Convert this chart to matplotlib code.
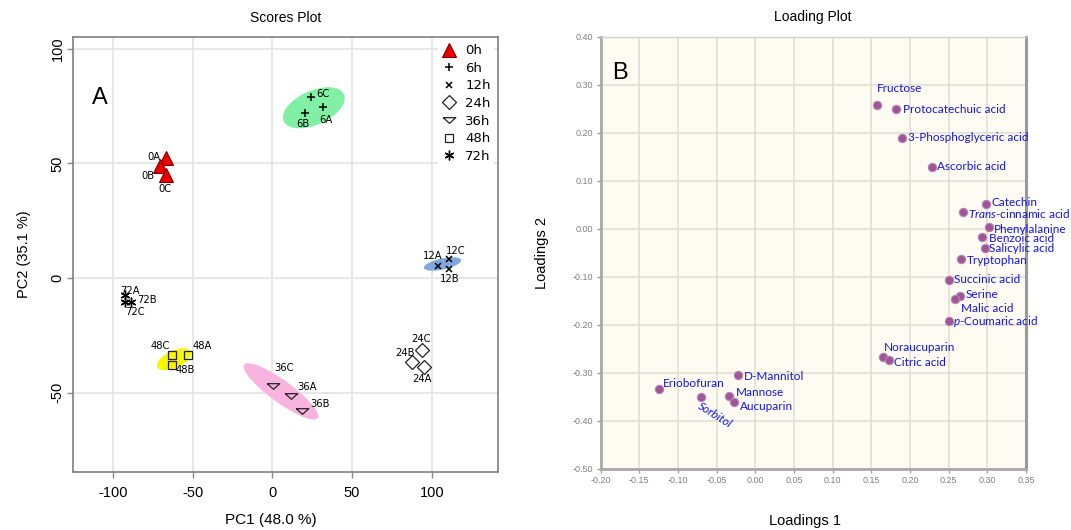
import matplotlib
matplotlib.use("Agg")
import matplotlib.pyplot as plt
import matplotlib.transforms as mtransforms
from matplotlib.patches import Ellipse
from matplotlib.lines import Line2D

plt.rcParams['font.family'] = ['Liberation Sans', 'DejaVu Sans']
plt.rcParams['mathtext.fontset'] = 'custom'
plt.rcParams['mathtext.rm'] = 'Lato'
plt.rcParams['mathtext.it'] = 'Lato:italic'

# ---------------- Scores data ----------------
groups = ['0h', '6h', '12h', '24h', '36h', '48h', '72h']
sample_labels = {
    '0h': ['0A', '0B', '0C'], '6h': ['6A', '6B', '6C'], '12h': ['12A', '12B', '12C'],
    '24h': ['24A', '24B', '24C'], '36h': ['36A', '36B', '36C'],
    '48h': ['48A', '48B', '48C'], '72h': ['72A', '72B', '72C'],
}
pc1 = {
    '0h': [-66.6, -70.6, -66.6], '6h': [31.5, 20.7, 24.2], '12h': [103.8, 110.5, 110.5],
    '24h': [94.8, 87.5, 93.8], '36h': [11.9, 18.6, 0.2], '48h': [-52.6, -62.9, -62.9],
    '72h': [-92.1, -88.5, -92.7],
}
pc2 = {
    '0h': [52.5, 48.9, 44.8], '6h': [74.5, 71.9, 79.2], '12h': [5.2, 3.9, 8.3],
    '24h': [-39.0, -36.7, -31.4], '36h': [-51.4, -58.1, -47.0], '48h': [-33.5, -38.1, -33.5],
    '72h': [-7.4, -10.3, -10.3],
}
# confidence ellipses: centre in data units
ell_groups = ['6h', '12h', '36h', '48h']
ell_cx = [26.0, 106.7, 5.4, -61.6]
ell_cy = [74.3, 6.1, -49.5, -35.5]

# ---------------- Loadings data ----------------
metabolites = ['Fructose', 'Protocatechuic acid', '3-Phosphoglyceric acid', 'Ascorbic acid',
               'Catechin', r'$\mathit{Trans}$-cinnamic acid', 'Phenylalanine', 'Benzoic acid',
               'Salicylic acid', 'Tryptophan', 'Succinic acid', 'Serine', 'Malic acid',
               r'$\mathit{p}$-Coumaric acid', 'Noraucuparin', 'Citric acid', 'D-Mannitol',
               'Eriobofuran', 'Sorbitol', 'Mannose', 'Aucuparin']
load1 = [0.158, 0.182, 0.190, 0.228, 0.298, 0.268, 0.302, 0.293, 0.297, 0.266, 0.250,
         0.265, 0.258, 0.251, 0.165, 0.173, -0.022, -0.124, -0.070, -0.034, -0.027]
load2 = [0.258, 0.249, 0.190, 0.129, 0.052, 0.035, 0.003, -0.017, -0.040, -0.063, -0.106,
         -0.139, -0.147, -0.192, -0.266, -0.274, -0.305, -0.333, -0.351, -0.349, -0.361]

# ---------------- figure ----------------
W, H = 1071, 530
fig = plt.figure(figsize=(W / 100, H / 100), dpi=100)
ax1 = fig.add_axes([73 / W, (H - 472) / H, (498 - 73) / W, (472 - 37) / H])
ax2 = fig.add_axes([600.5 / W, (H - 469) / H, (1026 - 600.5) / W, (469 - 36.7) / H])

# ----- Scores plot -----
ax1.set_xlim(-125, 141.5)
ax1.set_ylim(-84.7, 105.2)
ax1.set_xticks([-100, -50, 0, 50, 100])
ax1.set_yticks([-50, 0, 50, 100])
ax1.set_xticklabels(['-100', '-50', '0', '50', '100'])
ax1.set_yticklabels(['-50', '0', '50', '100'], rotation=90, va='center')
ax1.tick_params(labelsize=10.5, length=4, color='#888888', width=1, pad=2)
ax1.tick_params(axis='x', pad=6)
ax1.grid(True, color='#e3e3e3', lw=1.2)
ax1.set_axisbelow(True)
for s in ax1.spines.values():
    s.set_color('#808080')
    s.set_linewidth(1.2)
ax1.set_title('Scores Plot', fontsize=10, pad=11)
ax1.set_xlabel('PC1 (48.0 %)', fontsize=11, va='center')
ax1.xaxis.set_label_coords((271 - 73) / 425, (472 - 520) / 435)
ax1.set_ylabel('PC2 (35.1 %)', fontsize=10.5, labelpad=14)

ell_style = {'6h': (66, 34, 24, '#82F0A4'), '12h': (38, 11, 12, '#7FA8DE'),
             '36h': (91, 22, -36, '#F8B4DF'), '48h': (37, 17, 25, '#F7F700')}
for g, cx, cy in zip(ell_groups, ell_cx, ell_cy):
    w, h, ang, col = ell_style[g]
    tr = fig.dpi_scale_trans + mtransforms.ScaledTranslation(cx, cy, ax1.transData)
    ax1.add_patch(Ellipse((0, 0), w / 100, h / 100, angle=ang, transform=tr,
                          facecolor=col, edgecolor='none', zorder=1))

flat_down = [(-1, 0.45), (1, 0.45), (0, -0.45), (-1, 0.45)]
mstyle = {
    '0h': dict(marker='^', ms=10, mfc='#EE0000', mec='#7a0000', mew=0.8),
    '6h': dict(marker='+', ms=6, mfc='k', mec='k', mew=1.1),
    '12h': dict(marker='x', ms=5, mfc='k', mec='k', mew=1.1),
    '24h': dict(marker='D', ms=7.5, mfc='none', mec='#222222', mew=0.9),
    '36h': dict(marker=flat_down, ms=9, mfc='none', mec='#222222', mew=0.9),
    '48h': dict(marker='s', ms=5.5, mfc='none', mec='#222222', mew=0.9),
    '72h': dict(marker=(6, 2, 0), ms=7, mfc='k', mec='k', mew=1.0),
}
for g in groups:
    ax1.plot(pc1[g], pc2[g], ls='none', zorder=3, **mstyle[g])

# label offsets (pixels) and alignments
lab_off = {
    '0A': (-6, 1, 'right'), '0B': (-5, -10, 'right'), '0C': (-1, -14, 'center'),
    '6A': (3, -13, 'center'), '6B': (-2, -11, 'center'), '6C': (5, 3, 'left'),
    '12A': (-5, 10, 'center'), '12B': (1, -10, 'center'), '12C': (7, 8, 'center'),
    '24A': (-2, -12, 'center'), '24B': (-7, 9, 'center'), '24C': (-1, 11, 'center'),
    '36A': (6, 9, 'left'), '36B': (8, 7, 'left'), '36C': (11, 18, 'center'),
    '48A': (4, 9, 'left'), '48B': (4, -5, 'left'), '48C': (-2, 9, 'right'),
    '72A': (5, 4, 'center'), '72B': (6, 2, 'left'), '72C': (10, -10, 'center'),
}
for g in groups:
    for lab, x, y in zip(sample_labels[g], pc1[g], pc2[g]):
        dx, dy, ha = lab_off[lab]
        ax1.annotate(lab, (x, y), xytext=(dx, dy), textcoords='offset pixels',
                     ha=ha, va='center', fontsize=7.2, family='DejaVu Sans', zorder=4)

ax1.text(0.064, 0.86, 'A', transform=ax1.transAxes, fontsize=17, ha='center', va='center')

handles = [Line2D([], [], ls='none', **mstyle[g]) for g in groups]
leg = ax1.legend(handles, groups, loc='upper right', bbox_to_anchor=(1.0, 1.0),
                 frameon=True, facecolor='white', edgecolor='none', framealpha=1,
                 fancybox=False, borderpad=0.25, labelspacing=0.35, handlelength=1.2,
                 handletextpad=0.6, borderaxespad=0.3,
                 prop={'family': 'DejaVu Sans', 'size': 9.5})
leg.set_zorder(5)

# ----- Loading plot -----
ax2.set_facecolor('#FDFBF2')
ax2.set_xlim(-0.2, 0.35)
ax2.set_ylim(-0.5, 0.4)
xt = [-0.20, -0.15, -0.10, -0.05, 0.00, 0.05, 0.10, 0.15, 0.20, 0.25, 0.30, 0.35]
yt = [-0.50, -0.40, -0.30, -0.20, -0.10, 0.00, 0.10, 0.20, 0.30, 0.40]
ax2.set_xticks(xt)
ax2.set_yticks(yt)
ax2.set_xticklabels(['%.2f' % v for v in xt])
ax2.set_yticklabels(['%.2f' % v for v in yt])
ax2.tick_params(labelsize=6.5, labelcolor='#7f7f7f', color='#a0a0a0', length=3, width=1, pad=2)
ax2.grid(True, color='#E2DFD6', lw=1.2)
ax2.set_axisbelow(True)
for side in ['left', 'bottom']:
    ax2.spines[side].set_color('#A8A8A8')
    ax2.spines[side].set_linewidth(2)
ax2.spines['right'].set_color('#9a9a9a')
ax2.spines['right'].set_linewidth(2.2)
ax2.spines['top'].set_color('#d0d0d0')
ax2.spines['top'].set_linewidth(1)
ax2.set_title('Loading Plot', fontsize=10, pad=11)
ax2.set_xlabel('Loadings 1', fontsize=10.5, va='center')
ax2.xaxis.set_label_coords((805 - 600.5) / 425.5, (469 - 521) / 432.3)
ax2.set_ylabel('Loadings 2', fontsize=10.5, labelpad=17)

ax2.plot(load1, load2, ls='none', marker='o', ms=6, mfc='#9E5698', mec='#B986B4', mew=0.8, zorder=3)

lab2_off = [(22, 16, 'center'), (7, 0, 'left'), (6, 0, 'left'), (5, 0, 'left'),
            (6, 1, 'left'), (5, -1, 'left'), (5, -2, 'left'), (7, -2, 'left'),
            (4, 0, 'left'), (6, -1, 'left'), (5, 0, 'left'), (5, 1, 'left'),
            (6, -9, 'left'), (4, 0, 'left'), (1, 9, 'left'), (5, -2, 'left'),
            (6, -1, 'left'), (4, 5, 'left'), (1, -3, 'left'), (7, 4, 'left'),
            (6, -4, 'left')]
for name, x, y, (dx, dy, ha) in zip(metabolites, load1, load2, lab2_off):
    if name == 'Sorbitol':
        ax2.annotate(name, (x, y), xytext=(dx, dy), textcoords='offset pixels',
                     ha='left', va='top', rotation=-32, rotation_mode='anchor',
                     fontsize=8.5, color='#1414E6', family='Lato', style='italic', zorder=4)
    else:
        ax2.annotate(name, (x, y), xytext=(dx, dy), textcoords='offset pixels',
                     ha=ha, va='center', fontsize=8.5, color='#1414E6', family='Lato', zorder=4)

ax2.text(0.045, 0.915, 'B', transform=ax2.transAxes, fontsize=17, ha='center', va='center')

fig.savefig('out.png', dpi=100)
